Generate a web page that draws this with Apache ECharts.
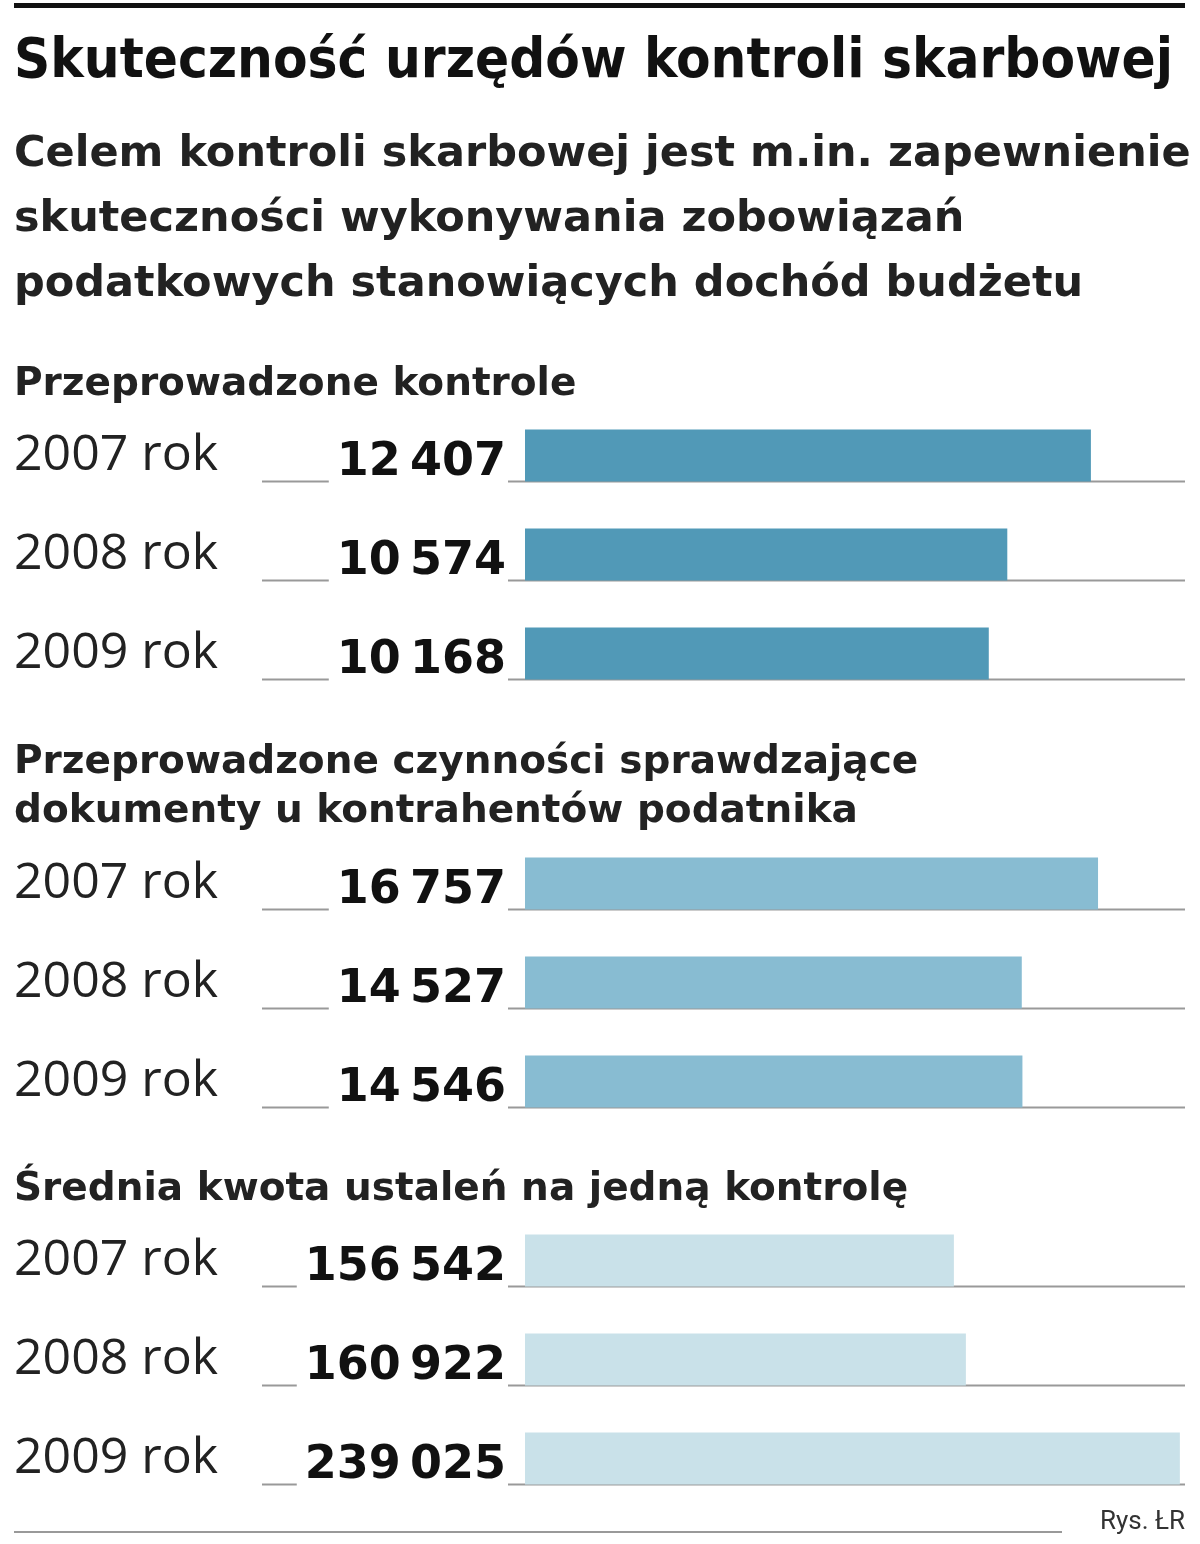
<!DOCTYPE html>
<html><head><meta charset="utf-8">
<script src="https://cdn.jsdelivr.net/npm/echarts@6/dist/echarts.min.js"></script>
<style>html,body{margin:0;padding:0;background:#fff}#c{width:1200px;height:1544px}</style>
</head><body><div id="c"></div>
<script>
const years = ['2007 rok','2008 rok','2009 rok'];
const kontrole = [12407, 10574, 10168];
const czynnosci = [16757, 14527, 14546];
const srednia = [156542, 160922, 239025];
const sectionTitles = ['Przeprowadzone kontrole','Przeprowadzone czynności sprawdzające\ndokumenty u kontrahentów podatnika','Średnia kwota ustaleń na jedną kontrolę'];
const colors = ['#5199b7','#88bcd2','#c9e1e9'];
const maxes = [14470, 19300, 240900];
const data = [kontrole, czynnosci, srednia];
const tops = [406, 834, 1211];

const fmt = v => String(v).replace(/\B(?=(\d{3})+(?!\d))/g, '\u2009');
const chart = echarts.init(document.getElementById('c'));
const grids=[], xAxes=[], yAxes=[], series=[];
data.forEach((d,i)=>{
  grids.push({left:525,right:15,top:tops[i],height:297});
  xAxes.push({type:'value',gridIndex:i,min:0,max:maxes[i],show:false});
  yAxes.push({type:'category',gridIndex:i,data:years,inverse:true,
    axisLine:{show:false},axisTick:{show:false},
    axisLabel:{align:'left',margin:511,fontSize:50,color:'#222',fontFamily:'"Open Sans"',verticalAlign:'middle',padding:[14,0,0,0]}});
  series.push({type:'bar',xAxisIndex:i,yAxisIndex:i,data:d,barWidth:52,z:3,
    itemStyle:{color:colors[i]},
    label:{show:true,position:'left',distance:17,formatter:p=>fmt(p.value),
      fontSize:46,fontWeight:'bold',color:'#111',fontFamily:'"DejaVu Sans"',
      backgroundColor:'#fff',padding:[0,2,0,8],offset:[0,8]}});
});
chart.setOption({animation:false,grid:grids,xAxis:xAxes,yAxis:yAxes,series:series});

const g=[];
g.push({type:'rect',shape:{x:14,y:3,width:1171,height:5},style:{fill:'#111'}});
g.push({type:'text',x:14,y:62,style:{text:'Skuteczność urzędów kontroli skarbowej',font:'bold 56px "DejaVu Sans Condensed", "Liberation Sans Narrow", sans-serif',fill:'#111',verticalAlign:'middle'}});
g.push({type:'text',x:14,y:220,style:{text:'Celem kontroli skarbowej jest m.in. zapewnienie\nskuteczności wykonywania zobowiązań\npodatkowych stanowiących dochód budżetu',font:'bold 43px "DejaVu Sans"',fill:'#222',lineHeight:65,verticalAlign:'middle'}});
const stY=[385,787,1190];
sectionTitles.forEach((t,i)=>g.push({type:'text',x:14,y:stY[i],style:{text:t,font:'bold 39px "DejaVu Sans"',fill:'#222',lineHeight:49,verticalAlign:'middle'}}));
data.forEach((d,i)=>{
  years.forEach((y,j)=>{
    const p=chart.convertToPixel({gridIndex:i},[0,j]);
    g.push({type:'line',z:-1,shape:{x1:262,y1:p[1]+26,x2:1185,y2:p[1]+26},style:{stroke:'#999',lineWidth:2}});
  });
});
g.push({type:'line',shape:{x1:14,y1:1532,x2:1062,y2:1532},style:{stroke:'#999',lineWidth:2}});
g.push({type:'text',x:1185,y:1522,style:{text:'Rys. ŁR',font:'26px Roboto',fill:'#333',align:'right',verticalAlign:'middle'}});
chart.setOption({graphic:{elements:g}});
</script></body></html>
